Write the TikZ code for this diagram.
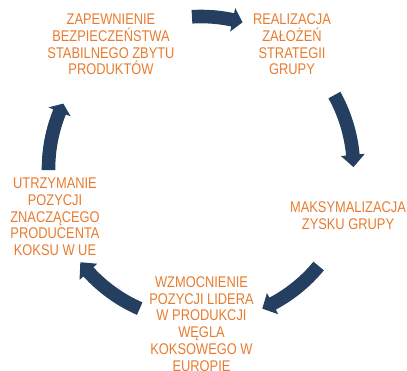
\documentclass[tikz,border=0pt]{standalone}
\usepackage{fontspec}
\setmainfont{Liberation Sans}[FakeStretch=0.83]
\definecolor{arrowblue}{HTML}{243F60}
\definecolor{txtorange}{HTML}{E87B2E}
\newcommand\BlkArrow[3]{%
  \fill[arrowfill] ([shift={(#1:159.3pt)}]c) arc[start angle=#1, end angle=#2, radius=159.3pt]
    -- ([shift={(#2:164.5pt)}]c) -- ([shift={(#3:152.5pt)}]c) -- ([shift={(#2:140.5pt)}]c)
    -- ([shift={(#2:145.7pt)}]c) arc[start angle=#2, end angle=#1, radius=145.7pt] -- cycle;}
\begin{document}
\begin{tikzpicture}[x=1pt,y=1pt,
  arrowfill/.style={fill=arrowblue},
  cyctext/.style={text=txtorange, align=center, inner sep=0pt,
    font=\fontsize{15.5}{16.7}\selectfont}]
\useasboundingbox (0,0) rectangle (407,370);
\coordinate (c) at (201,201);
\node[cyctext] (n1) at (111,325.5) {ZAPEWNIENIE\\BEZPIECZEŃSTWA\\STABILNEGO ZBYTU\\PRODUKTÓW};
\node[cyctext] (n2) at (292,325.5) {REALIZACJA\\ZAŁOŻEŃ\\STRATEGII\\GRUPY};
\node[cyctext] (n3) at (348,154) {MAKSYMALIZACJA\\ZYSKU GRUPY};
\node[cyctext] (n4) at (201.5,46) {WZMOCNIENIE\\POZYCJI LIDERA\\W PRODUKCJI\\WĘGLA\\KOKSOWEGO W\\EUROPIE};
\node[cyctext] (n5) at (55,153) {UTRZYMANIE\\POZYCJI\\ZNACZĄCEGO\\PRODUCENTA\\KOKSU W UE};
\BlkArrow{93.4}{78}{74.2}
\BlkArrow{29}{5.3}{0.7}
\BlkArrow{-39.5}{-62}{-66.3}
\BlkArrow{-113.7}{-137.6}{-142.3}
\BlkArrow{180.4}{158}{154.6}
\end{tikzpicture}
\end{document}
